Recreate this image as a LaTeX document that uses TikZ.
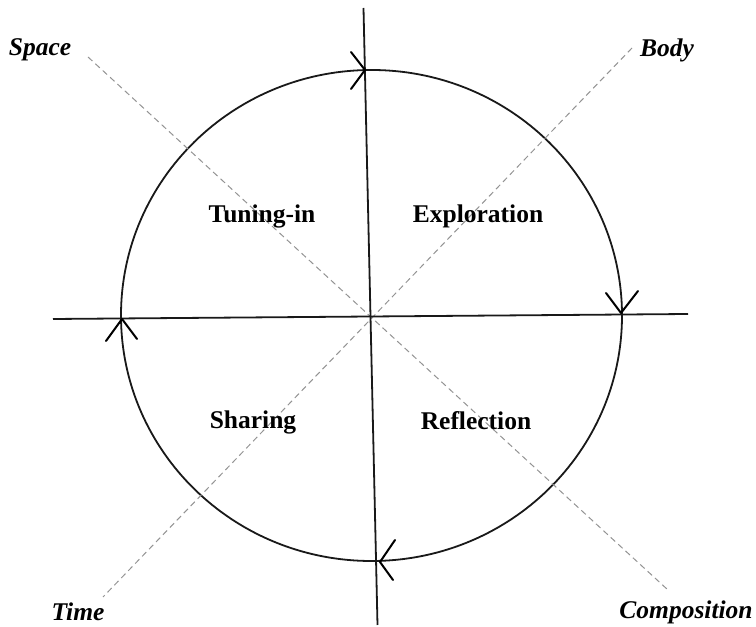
\documentclass[tikz,border=0pt]{standalone}
\usepackage{fontspec}
\setmainfont{Liberation Serif}
\begin{document}
\begin{tikzpicture}[x=1pt,y=1pt,
  axis/.style={line width=1.8pt,black!90},
  diag/.style={line width=1pt,gray!85,dash pattern=on 6pt off 4pt},
  chev/.style={line width=2pt,black,line cap=round,line join=round},
  phase/.style={font=\fontsize{25.5}{30}\selectfont\bfseries,inner sep=0pt},
  elem/.style={font=\fontsize{25.5}{30}\selectfont\bfseries\itshape,inner sep=0pt}]
\useasboundingbox (0,0) rectangle (756,627);
% axis ends
\coordinate (vt) at (363.5,619);
\coordinate (vb) at (377.5,2);
\coordinate (hl) at (53,308);
\coordinate (hr) at (688,313);
\coordinate (s1) at (88,570);
\coordinate (s2) at (668,37);
\coordinate (b1) at (632,579);
\coordinate (b2) at (103,30);
% circle
\draw[line width=1.8pt,black!90] (371.5,311.5) ellipse [x radius=250.5, y radius=245.5];
% lines
\draw[diag] (s1) -- (s2);
\draw[diag] (b1) -- (b2);
\draw[axis] (vt) -- (vb);
\draw[axis] (hl) -- (hr);
% arrow tips
\coordinate (at) at (365,557);
\coordinate (ar) at (621,314);
\coordinate (ab) at (380,65);
\coordinate (al) at (122,308);
\draw[chev] (351,575) -- (at) -- (351,538);
\draw[chev] (606,334) -- (ar) -- (638,336);
\draw[chev] (395,87) -- (ab) -- (393,47);
\draw[chev] (106,286) -- (al) -- (137,288);
% labels
\node[phase] (tun) at (262,411) {Tuning-in};
\node[phase] (exp) at (478,411) {Exploration};
\node[phase] (sha) at (253,205) {Sharing};
\node[phase] (ref) at (476,206) {Reflection};
\node[elem] (space) at (40,577) {Space};
\node[elem] (body) at (667,577) {Body};
\node[elem] (time) at (78,15) {Time};
\node[elem] (comp) at (686,15) {Composition};
\end{tikzpicture}
\end{document}
